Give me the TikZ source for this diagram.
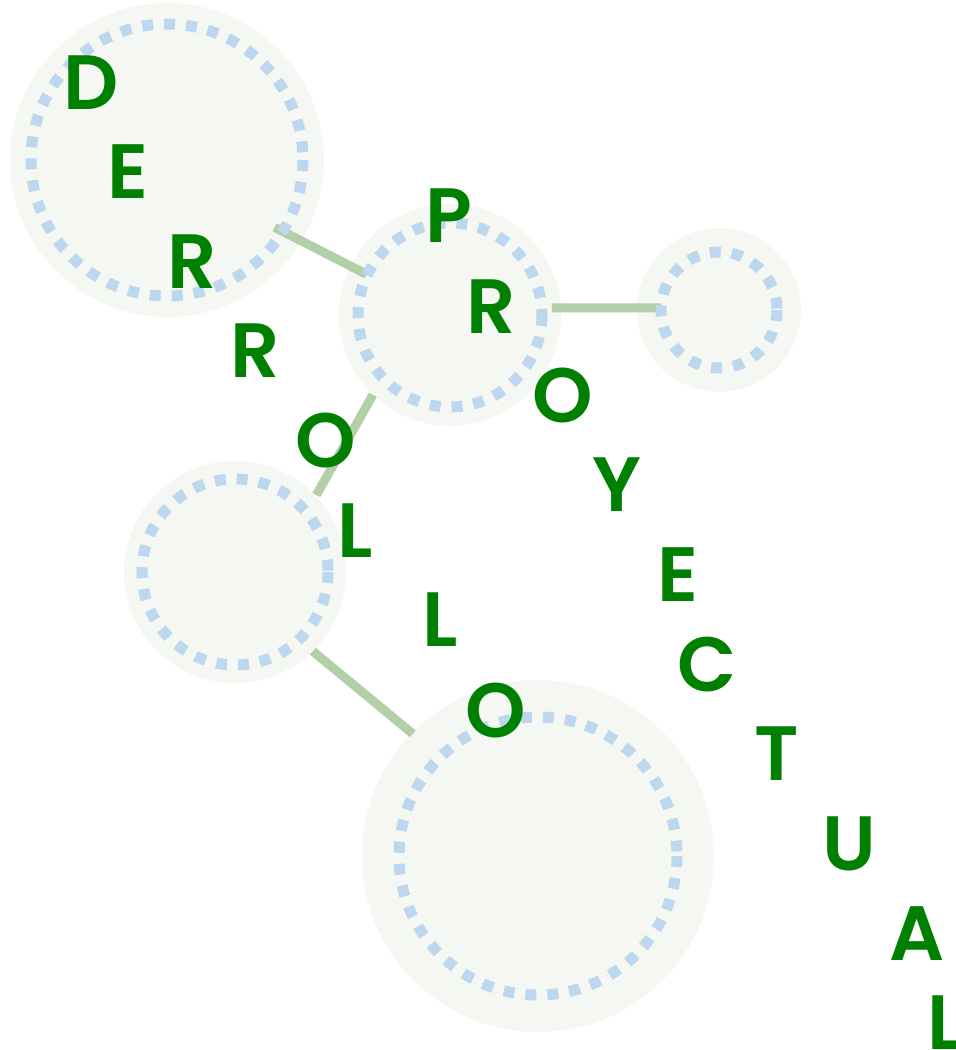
\documentclass[tikz,border=0pt]{standalone}
\usepackage{fontspec}
\setmainfont{Poppins}[BoldFont={Poppins SemiBold}]
\usetikzlibrary{calc}
\definecolor{discfill}{HTML}{F5F8F2}
\definecolor{ringblue}{HTML}{BDD7EE}
\definecolor{linkgreen}{HTML}{B3CFA8}
\definecolor{lettergreen}{HTML}{008000}
\tikzset{
  disc/.style={circle, fill=discfill, draw=none, inner sep=0pt, outer sep=0pt, minimum size=#1},
  ring/.style={draw=ringblue, line width=11pt, dash pattern=on 11pt off 11pt},
  link/.style={draw=linkgreen, line width=9pt},
  letter/.style={text=lettergreen, inner sep=0pt, outer sep=0pt, anchor=center,
    font=\fontsize{77}{77}\selectfont\bfseries}
}
\begin{document}
\begin{tikzpicture}[x=1pt, y=-1pt]
\useasboundingbox (0,0) rectangle (956,1050);
% discs
\node[disc=314pt] (A) at (167,160) {};
\node[disc=222pt] (B) at (450,315) {};
\node[disc=164pt] (C) at (719,310) {};
\node[disc=222pt] (D) at (235,572) {};
\node[disc=352pt] (E) at (538,856) {};
% connectors
\draw[link] ($(A.center)+(32:127)$) -- ($(B.center)+(206:93)$);
\draw[link] ($(B.center)+(-4:102)$) -- ($(C.center)+(182:58)$);
\draw[link] ($(B.center)+(134:111)$) -- ($(D.center)+(-43.4:112)$);
\draw[link] ($(D.center)+(45.5:111)$) -- ($(E.center)+(224.3:175)$);
% dotted rings
\draw[ring] (A.center) circle[radius=136];
\draw[ring] (B.center) circle[radius=92];
\draw[ring] (C.center) circle[radius=58];
\draw[ring] (D.center) circle[radius=93];
\draw[ring] (E.center) circle[radius=139];
% letters
\node[letter] (l1) at (91.5,82.5) {D};
\node[letter] (l2) at (128,172) {E};
\node[letter] (l3) at (192.5,261.5) {R};
\node[letter] (l4) at (255.5,351) {R};
\node[letter] (l5) at (326,441) {O};
\node[letter] (l6) at (355.5,531) {L};
\node[letter] (l7) at (440,620) {L};
\node[letter] (l8) at (495.7,710.5) {O};
\node[letter] (m1) at (448.5,216) {P};
\node[letter] (m2) at (491.5,306.5) {R};
\node[letter] (m3) at (563,396) {O};
\node[letter] (m4) at (617,485) {Y};
\node[letter] (m5) at (678,575) {E};
\node[letter] (m6) at (707.5,665) {C};
\node[letter] (m7) at (777,754) {T};
\node[letter] (m8) at (849,844) {U};
\node[letter] (m9) at (917,933.5) {A};
\node[letter] (m10) at (945,1023) {L};
\end{tikzpicture}
\end{document}
